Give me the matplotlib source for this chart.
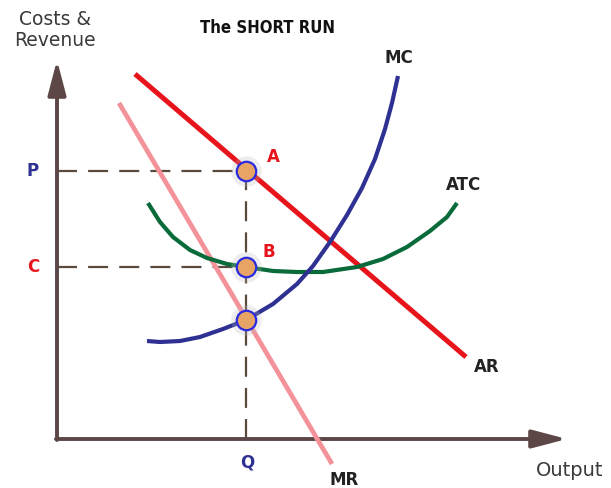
import matplotlib.pyplot as plt
import numpy as np

# curve points (output, cost/revenue units; origin at the axis corner)
ar_x = [78, 409]
ar_y = [365, 82]
mr_x = [62, 275]
mr_y = [336, -25]
atc_x = [91, 103, 116, 133, 150, 170, 189, 216, 240, 266, 300, 326, 350, 373, 390, 400]
atc_y = [236, 217, 202, 189, 181, 175, 172, 168, 167, 167, 172, 180, 192, 208, 222, 236]
mc_x = [90, 103, 123, 143, 166, 189, 216, 240, 256, 273, 290, 305, 318, 328, 335, 341]
mc_y = [98, 97, 98, 102, 110, 119, 135, 155, 173, 197, 224, 251, 280, 310, 336, 363]

q_val = 189
p_val = 268
c_val = 172
mc_at_q = 119
points_y = [p_val, c_val, mc_at_q]

# colours
axis_col = '#5c4646'
dash_col = '#5a4a3c'
red = '#e8141c'
pink = '#f4929a'
blue = '#2e3192'
green = '#0a6b3a'
label_col = '#222222'

fig = plt.figure(figsize=(6.11, 4.88), dpi=100)
ax = fig.add_axes([0, 0, 1, 1])
ax.set_xlim(-57, 554)
ax.set_ylim(-49, 439)
ax.axis('off')

# axes with arrow heads
head = '-|>,head_length=2.1,head_width=0.55'
ax.annotate('', xy=(0, 379), xytext=(0, -1),
            arrowprops=dict(arrowstyle=head, mutation_scale=10, lw=2.8,
                            color=axis_col, shrinkA=0, shrinkB=0))
ax.annotate('', xy=(510, 0), xytext=(-1, 0),
            arrowprops=dict(arrowstyle=head, mutation_scale=10, lw=2.8,
                            color=axis_col, shrinkA=0, shrinkB=0))

# dashed guide lines
dash_kw = dict(color=dash_col, lw=1.6, dashes=(9, 5), zorder=2)
ax.plot([0, q_val], [p_val, p_val], **dash_kw)
ax.plot([0, q_val], [c_val, c_val], **dash_kw)
ax.plot([q_val, q_val], [0, p_val], **dash_kw)

# curves
ax.plot(mr_x, mr_y, color=pink, lw=3.4, solid_capstyle='butt', zorder=3)
ax.plot(ar_x, ar_y, color=red, lw=3.6, solid_capstyle='butt', zorder=3)
ax.plot(atc_x, atc_y, color=green, lw=3.0, solid_capstyle='butt',
        solid_joinstyle='round', zorder=3)
ax.plot(mc_x, mc_y, color=blue, lw=3.0, solid_capstyle='butt',
        solid_joinstyle='round', zorder=4)

# points
ax.plot([q_val] * 3, points_y, 'o', ms=22, color='#bbbbbb', alpha=0.25, mec='none', zorder=5)
ax.plot([q_val] * 3, points_y, 'o', ms=14, mfc='#e8a464', mec='#2a2ae0', mew=1.6, zorder=6)

# text
ax.text(-2, 409, 'Costs &\nRevenue', ha='center', va='center', fontsize=13.5,
        color='#3a3a3a', linespacing=1.15)
ax.text(211, 411, 'The SHORT RUN', ha='center', va='center', fontsize=12,
        fontweight='bold', fontstretch='condensed', color='#111111')
bold = dict(fontsize=12, fontweight='bold', ha='center', va='center')
ax.text(342, 381, 'MC', color=label_col, **bold)
ax.text(407, 254, 'ATC', color=label_col, **bold)
ax.text(430, 72, 'AR', color=label_col, **bold)
ax.text(287, -41, 'MR', color=label_col, **bold)
ax.text(513, -31, 'Output', ha='center', va='center', fontsize=14, color='#3a3a3a')
ax.text(q_val + 1, -24, 'Q', color=blue, **bold)
ax.text(-24, p_val, 'P', color=blue, **bold)
ax.text(-24, c_val, 'C', color=red, **bold)
ax.text(216, 282, 'A', color=red, **bold)
ax.text(212, 187, 'B', color=red, **bold)

plt.savefig('out.png', dpi=100)
plt.close()
